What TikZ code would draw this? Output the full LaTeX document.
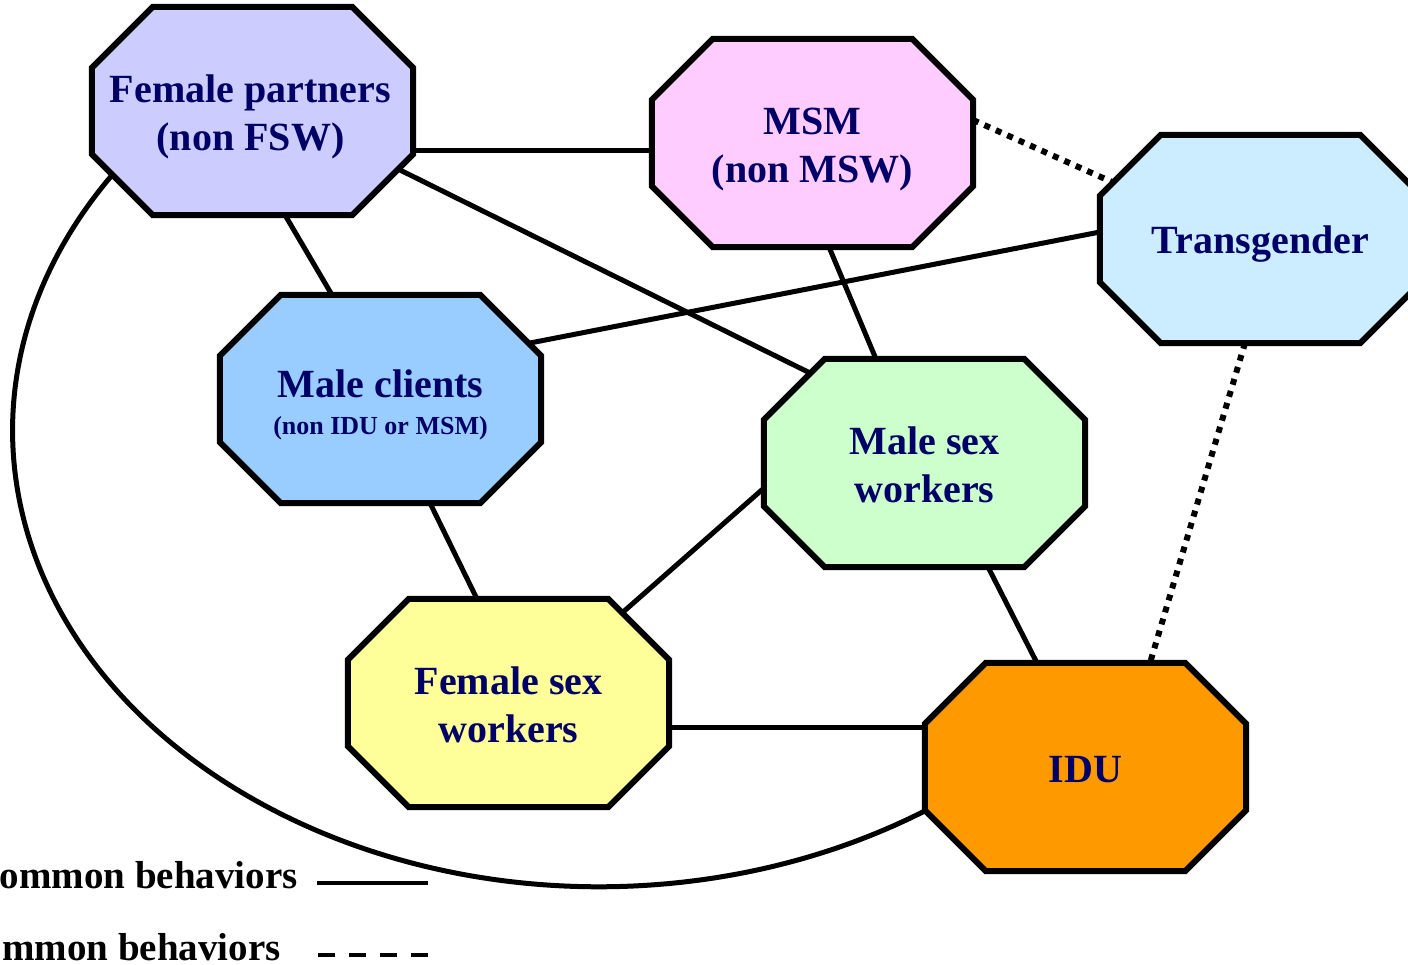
\documentclass[tikz,border=0pt]{standalone}
\usepackage{fontspec}
\setmainfont{Liberation Serif}
\usetikzlibrary{calc}
\definecolor{navytext}{RGB}{0,0,102}
\definecolor{cfp}{HTML}{CCCCFF}
\definecolor{cmsm}{HTML}{FFCCFF}
\definecolor{ctg}{HTML}{CCECFF}
\definecolor{cmc}{HTML}{99CCFF}
\definecolor{cmsw}{HTML}{CCFFCC}
\definecolor{cfsw}{HTML}{FFFF99}
\definecolor{cidu}{HTML}{FF9900}
\pgfdeclarelayer{edges}
\pgfdeclarelayer{bg}
\pgfsetlayers{edges,bg,main}
\newcommand\octshape[2]{%
  \path[octline,fill=#2] ($(#1.north west)+(61,0)$) -- ($(#1.north east)+(-61,0)$)
    -- ($(#1.north east)+(0,-61)$) -- ($(#1.south east)+(0,61)$)
    -- ($(#1.south east)+(-61,0)$) -- ($(#1.south west)+(61,0)$)
    -- ($(#1.south west)+(0,61)$) -- ($(#1.north west)+(0,-61)$) -- cycle;}
\begin{document}
\begin{tikzpicture}[x=1pt,y=1pt,
  grp/.style={minimum width=321pt,minimum height=208pt,inner sep=0pt},
  lbl/.style={inner sep=0pt,align=center,text=navytext,font=\fontsize{40}{48}\selectfont\bfseries},
  octline/.style={draw=black,line width=6pt,line join=miter},
  link/.style={draw=black,line width=5pt,shorten <=-4pt,shorten >=-4pt},
  dotlink/.style={draw=black,line width=6pt,dash pattern=on 6pt off 6.5pt},
  legtext/.style={font=\fontsize{39}{46}\selectfont\bfseries,text=black,inner sep=0pt},
  legline/.style={draw=black,line width=4.5pt}]
\useasboundingbox (0,0) rectangle (1408,-965);

% groups
\node[grp] (fp)  at (252.5,-111) {};
\node[grp] (msm) at (812.5,-143) {};
\node[grp] (tg)  at (1260.5,-239) {};
\node[grp] (mc)  at (380.5,-399) {};
\node[grp] (msw) at (924.5,-463) {};
\node[grp] (fsw) at (508.5,-703) {};
\node[grp] (idu) at (1085.5,-767) {};

% group labels
\node[lbl,xshift=-2pt,yshift=-6pt] (fpt) at (fp.center) {Female partners\\(non FSW)};
\node[lbl,yshift=-7pt] (msmt) at (msm.center) {MSM\\(non MSW)};
\node[lbl,yshift=-5pt] (tgt) at (tg.center) {Transgender};
\node[lbl,yshift=-6pt] (mct) at (mc.center) {Male clients\\[-11pt]{\fontsize{26}{30}\selectfont (non IDU or MSM)}};
\node[lbl,yshift=-2pt] (mswt) at (msw.center) {Male sex\\workers};
\node[lbl,yshift=-2pt] (fswt) at (fsw.center) {Female sex\\workers};
\node[lbl,yshift=-3pt] (idut) at (idu.center) {IDU};

% octagon outlines
\begin{pgfonlayer}{bg}
\octshape{fp}{cfp}
\octshape{msm}{cmsm}
\octshape{tg}{ctg}
\octshape{mc}{cmc}
\octshape{msw}{cmsw}
\octshape{fsw}{cfsw}
\octshape{idu}{cidu}
\end{pgfonlayer}

% connectors
\begin{pgfonlayer}{edges}
\draw[link] ($(fp.center)+(160.5,-40)$) -- ($(msm.center)+(-160.5,-8)$);
\draw[link] ($(fp.center)+(32.5,-104)$) -- ($(mc.center)+(-48.5,104)$);
\draw[link] ($(fp.center)+(147.5,-59)$) -- ($(msw.center)+(-114.5,90)$);
\draw[link] ($(msm.center)+(16.5,-104)$) -- ($(msw.center)+(-48.5,104)$);
\draw[link] ($(tg.center)+(-160.5,7)$) -- ($(mc.center)+(149.5,56)$);
\draw[link] ($(mc.center)+(49.5,-104)$) -- ($(fsw.center)+(-31.5,104)$);
\draw[link] ($(msw.center)+(-160.5,-25)$) -- ($(fsw.center)+(113.5,90)$);
\draw[link] ($(msw.center)+(63.5,-104)$) -- ($(idu.center)+(-48.5,104)$);
\draw[link] ($(fsw.center)+(160.5,-24)$) -- ($(idu.center)+(-160.5,40)$);
\draw[dotlink] ($(msm.center)+(160.5,23)$) -- ($(tg.center)+(-148.5,57)$);
\draw[dotlink] ($(tg.center)+(-15.5,-104)$) -- ($(idu.center)+(64.5,104)$);
\draw[link] ($(fp.center)+(-140,-63.5)$) arc[start angle=146,end angle=303.6,x radius=588,y radius=457];
\end{pgfonlayer}

% legend
\node[legtext,anchor=base east] (leg1) at (298,-888) {ommon behaviors};
\node[legtext,anchor=base east] (leg2) at (281,-960) {mmon behaviors};
\draw[legline] ($(leg1.base east)+(19,5)$) -- ++(111,0);
\draw[legline,dash pattern=on 17pt off 14pt] ($(leg2.base east)+(37,5)$) -- ++(110,0);
\end{tikzpicture}
\end{document}
